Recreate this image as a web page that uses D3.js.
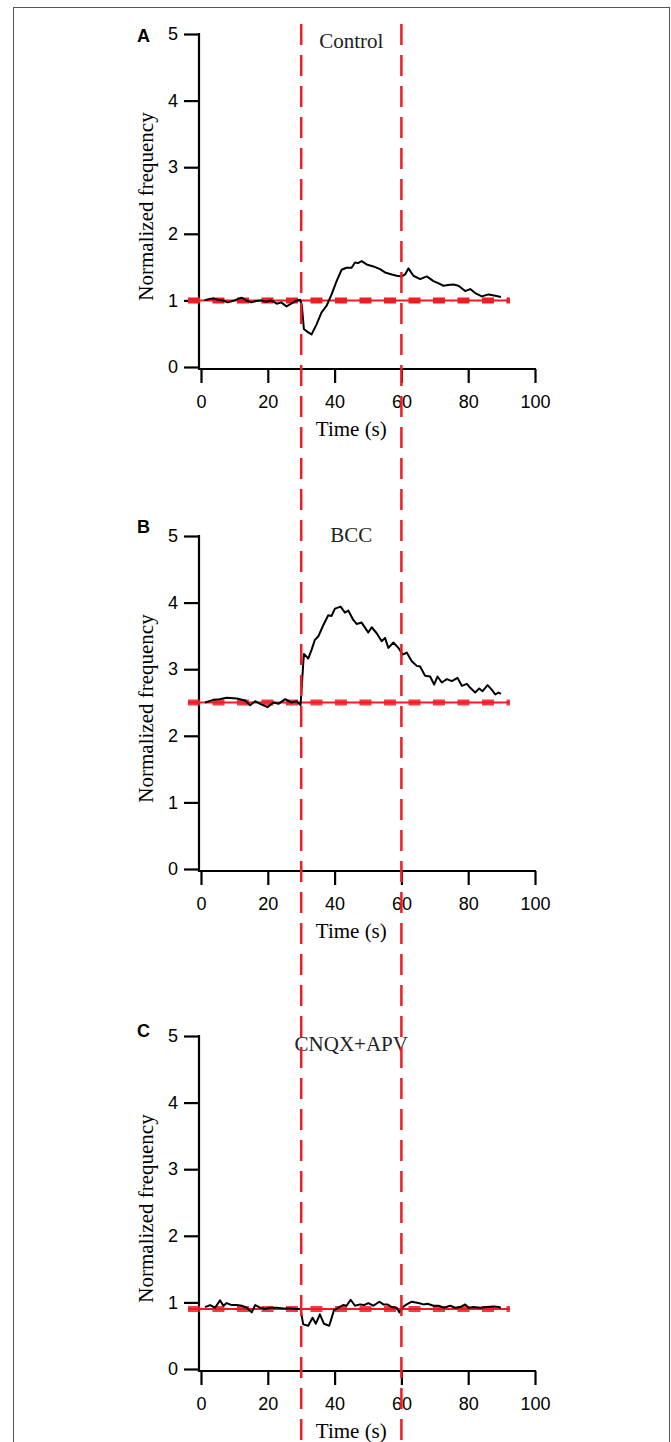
<!DOCTYPE html>
<html>
<head>
<meta charset="utf-8">
<script src="https://d3js.org/d3.v7.min.js"></script>
<style>
  body { margin: 0; background: #fff; }
  svg { display: block; }
</style>
</head>
<body>
<script>
// normalized frequency traces, [time (s), value]
const controlData = [
  [1.0,1.00],[2.5,1.02],[3.7,1.03],[5.0,1.01],[6.5,1.00],[8.0,0.97],[9.5,0.99],[11.0,1.02],
  [12.2,1.04],[13.5,1.00],[15.0,0.97],[16.5,0.99],[18.0,1.00],[19.5,0.98],[21.0,1.00],[22.7,0.95],
  [24.0,0.97],[25.6,0.91],[27.0,0.95],[28.3,0.99],[29.7,1.01],[30.2,0.92],[30.8,0.57],[32.1,0.52],
  [33.1,0.49],[34.6,0.64],[36.1,0.82],[37.6,0.92],[39.1,1.09],[40.6,1.29],[42.1,1.46],[43.6,1.49],
  [45.1,1.49],[46.1,1.57],[47.0,1.56],[48.1,1.59],[49.6,1.54],[51.6,1.51],[53.6,1.47],[55.1,1.42],
  [57.1,1.39],[58.6,1.37],[60.1,1.36],[61.1,1.39],[62.1,1.48],[63.6,1.37],[65.6,1.32],[67.6,1.36],
  [69.6,1.29],[71.0,1.26],[72.6,1.22],[74.0,1.23],[75.6,1.24],[77.1,1.22],[79.1,1.14],[80.6,1.17],
  [82.1,1.11],[84.1,1.06],[86.1,1.09],[88.1,1.07],[89.8,1.05]
];
const bccData = [
  [1.2,2.50],[3.7,2.54],[5.5,2.55],[7.7,2.57],[10.7,2.56],[13.2,2.53],[14.7,2.46],[16.2,2.52],
  [17.7,2.48],[19.9,2.43],[21.7,2.50],[23.2,2.48],[25.2,2.55],[27.1,2.50],[28.6,2.52],[29.8,2.46],
  [30.8,3.23],[32.1,3.16],[33.1,3.29],[34.1,3.44],[35.1,3.49],[36.6,3.66],[38.1,3.81],[39.1,3.80],
  [40.1,3.91],[41.8,3.94],[43.1,3.85],[44.1,3.88],[45.6,3.74],[46.6,3.68],[48.1,3.70],[50.1,3.55],
  [51.1,3.63],[52.6,3.54],[54.1,3.42],[55.1,3.47],[56.1,3.32],[57.6,3.40],[59.1,3.32],[60.4,3.22],
  [61.6,3.25],[63.1,3.12],[64.6,3.05],[65.6,3.04],[67.1,2.90],[68.6,2.89],[69.8,2.77],[70.8,2.89],
  [72.1,2.80],[73.6,2.85],[75.1,2.82],[76.8,2.87],[78.1,2.75],[79.6,2.78],[80.6,2.72],[82.1,2.65],
  [83.3,2.71],[84.3,2.67],[85.8,2.76],[87.1,2.69],[88.1,2.62],[89.1,2.65],[89.8,2.63]
];
const cnqxData = [
  [1.2,0.93],[2.7,0.96],[4.2,0.92],[5.7,1.03],[6.7,0.95],[7.7,0.99],[9.2,0.96],[10.7,0.96],
  [12.2,0.95],[13.7,0.92],[15.2,0.85],[16.2,0.96],[17.7,0.92],[19.2,0.90],[20.7,0.92],[22.7,0.92],
  [24.7,0.91],[26.7,0.91],[28.6,0.90],[29.8,0.90],[30.6,0.67],[32.1,0.65],[33.4,0.77],[34.4,0.68],
  [35.6,0.82],[36.8,0.68],[38.4,0.65],[39.8,0.88],[41.1,0.92],[42.6,0.96],[43.6,0.95],[44.8,1.04],
  [46.1,0.95],[47.6,0.97],[48.8,0.96],[50.1,0.99],[51.6,0.95],[53.4,1.01],[54.6,0.97],[55.8,0.97],
  [57.1,0.93],[58.6,0.92],[59.4,0.85],[60.4,0.93],[61.6,0.97],[63.1,1.01],[65.1,0.99],[66.6,0.97],
  [67.8,0.98],[69.6,0.95],[71.1,0.95],[72.8,0.92],[74.6,0.95],[76.1,0.92],[77.6,0.93],[79.1,0.97],
  [80.1,0.92],[81.6,0.93],[83.6,0.92],[85.6,0.93],[87.6,0.94],[89.1,0.93],[89.8,0.92]
];

const panelLetters = ["A", "B", "C"];
const panelTitles = ["Control", "BCC", "CNQX+APV"];
const baselines = [1.0, 2.5, 0.9];
const stimulusTimes = [30, 60];
const baselineSpan = [-3.9, 92.5];
const xTicks = [0, 20, 40, 60, 80, 100];
const yTicks = [0, 1, 2, 3, 4, 5];

const panels = [controlData, bccData, cnqxData].map((d, i) => ({
  data: d, letter: panelLetters[i], title: panelTitles[i], base: baselines[i]
}));

const width = 671, height = 1442;
const red = "#ee1c24";
const serif = "'Liberation Serif', 'Times New Roman', serif";
const sans = "'Liberation Sans', Arial, sans-serif";

const svg = d3.select("body").append("svg")
  .attr("width", width).attr("height", height);

// figure frame
svg.append("rect")
  .attr("x", 13.5).attr("y", 7.5)
  .attr("width", 656).attr("height", 1500)
  .attr("fill", "none").attr("stroke", "#555").attr("stroke-width", 1);

const x = d3.scaleLinear().domain([0, 100]).range([201, 535]);

const tops = [34, 536, 1036];
const titleDy = [14, 6, 15];
const letterDy = [8, -3, 1];

panels.forEach((p, i) => {
  const top = tops[i];
  const y = d3.scaleLinear().domain([0, 5]).range([top + 333, top]);
  const g = svg.append("g");

  // y axis
  const yAxis = g.append("g")
    .attr("transform", "translate(199,0)")
    .call(d3.axisLeft(y).tickValues(yTicks).tickSize(15).tickPadding(6).tickFormat(d3.format("d")));
  yAxis.select(".domain").remove();
  yAxis.append("line")
    .attr("x1", 0).attr("x2", 0)
    .attr("y1", top - 1).attr("y2", y(0) + 3)
    .attr("stroke", "#000").attr("stroke-width", 2.2);
  yAxis.selectAll(".tick line").attr("stroke-width", 2.2);
  yAxis.selectAll("text").attr("font-family", sans).attr("font-size", 18).attr("fill", "#000");

  // x axis
  const axisY = y(0) + 2;
  const xAxis = g.append("g")
    .attr("transform", `translate(0,${axisY})`)
    .call(d3.axisBottom(x).tickValues(xTicks).tickSize(14).tickPadding(12).tickFormat(d3.format("d")));
  xAxis.select(".domain").remove();
  xAxis.append("line")
    .attr("x1", 198).attr("x2", x(100) + 1)
    .attr("y1", 0).attr("y2", 0)
    .attr("stroke", "#000").attr("stroke-width", 2.2);
  xAxis.selectAll(".tick line").attr("stroke-width", 2.2);
  xAxis.selectAll("text").attr("font-family", sans).attr("font-size", 18).attr("fill", "#000");

  g.append("text")
    .attr("x", x(45)).attr("y", axisY + 67)
    .attr("text-anchor", "middle")
    .attr("font-family", serif).attr("font-size", 21)
    .text("Time (s)");

  g.append("text")
    .attr("transform", `translate(153,${(y(0) + y(5)) / 2 + 6}) rotate(-90)`)
    .attr("text-anchor", "middle")
    .attr("font-family", serif).attr("font-size", 21)
    .text("Normalized frequency");

  g.append("text")
    .attr("x", 137).attr("y", top + letterDy[i])
    .attr("font-family", sans).attr("font-weight", "bold").attr("font-size", 18)
    .text(p.letter);

  g.append("text")
    .attr("x", x(45)).attr("y", top + titleDy[i])
    .attr("text-anchor", "middle")
    .attr("font-family", serif).attr("font-size", 21).attr("fill", "#222")
    .text(p.title);

  // baseline: solid thin + thick dashed
  g.append("line")
    .attr("x1", x(baselineSpan[0])).attr("x2", x(baselineSpan[1]))
    .attr("y1", y(p.base)).attr("y2", y(p.base))
    .attr("stroke", red).attr("stroke-width", 2);
  g.append("line")
    .attr("x1", x(baselineSpan[0])).attr("x2", x(baselineSpan[1]))
    .attr("y1", y(p.base)).attr("y2", y(p.base))
    .attr("stroke", red).attr("stroke-width", 6)
    .attr("stroke-opacity", i == 0 ? 1 : 0.85)
    .attr("stroke-dasharray", "12,12.5");

  // trace
  g.append("path")
    .datum(p.data)
    .attr("fill", "none")
    .attr("stroke", "#000")
    .attr("stroke-width", 2)
    .attr("stroke-linejoin", "round")
    .attr("d", d3.line().x(d => x(d[0])).y(d => y(d[1])));
});

// stimulus window markers running across all panels
svg.selectAll(".stim")
  .data(stimulusTimes)
  .enter()
  .append("line")
  .attr("class", "stim")
  .attr("x1", d => x(d)).attr("x2", d => x(d))
  .attr("y1", 24).attr("y2", height)
  .attr("stroke", red).attr("stroke-width", 2.5)
  .attr("stroke-dasharray", "21,10");
</script>
</body>
</html>
